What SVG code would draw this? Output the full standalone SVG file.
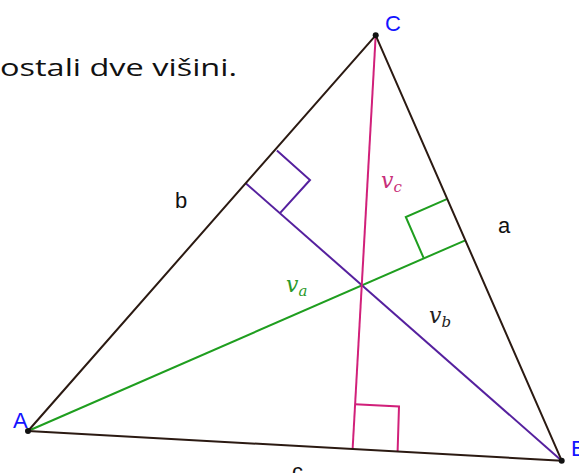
<svg xmlns="http://www.w3.org/2000/svg" width="579" height="473" viewBox="0 0 579 473">
<style>
.side{stroke:#2b1a12;stroke-width:2;fill:none;stroke-linecap:round}
.va{stroke:#1f9e1f;stroke-width:2;fill:none}
.vb{stroke:#55209e;stroke-width:2;fill:none}
.vc{stroke:#d1207a;stroke-width:2;fill:none}
.pt{fill:#111}
.vl{font-family:"Liberation Sans",Arial,sans-serif;font-size:22px;fill:#1414ff}
.sl{font-family:"Liberation Sans",Arial,sans-serif;font-size:22px;fill:#111}
.mv{font-family:"DejaVu Serif","Liberation Serif",serif;font-style:italic;font-size:22px}
.sub{font-size:15px}
</style>
<rect width="579" height="473" fill="#fff"/>
<text x="0" y="76" font-family="'Open Sans','Noto Sans',sans-serif" font-size="23" fill="#111" textLength="237" lengthAdjust="spacingAndGlyphs">ostali dve višini.</text>
<g id="connectors">
<line id="altA" class="va" x1="28" y1="431" x2="465.3" y2="240.3"/>
<line id="altB" class="vb" x1="561.7" y1="460.7" x2="245.7" y2="183.2"/>
<line id="altC" class="vc" x1="375.7" y1="35.3" x2="352.6" y2="449.2"/>
<polyline class="va" points="446.8,199.2 405.8,217 423.6,257.9"/>
<polyline class="vb" points="276.9,150.5 310,180 280.2,212.9"/>
<polyline class="vc" points="355,404.3 399,406.4 397.6,451.7"/>
</g>
<g id="sides">
<line id="sideAB" class="side" x1="28" y1="431" x2="561.7" y2="460.7"/>
<line id="sideBC" class="side" x1="561.7" y1="460.7" x2="375.7" y2="35.3"/>
<line id="sideCA" class="side" x1="375.7" y1="35.3" x2="28" y2="431"/>
</g>
<g id="nodeA"><circle class="pt" cx="28" cy="431" r="3"/><text class="vl" x="13" y="428">A</text></g>
<g id="nodeB"><circle class="pt" cx="561.7" cy="460.7" r="3"/><text class="vl" x="571" y="456">B</text></g>
<g id="nodeC"><circle class="pt" cx="375.7" cy="35.3" r="3"/><text class="vl" x="385" y="30.5">C</text></g>
<g id="labels">
<text class="sl" x="175" y="208">b</text>
<text class="sl" x="498" y="233">a</text>
<text class="sl" x="292" y="479">c</text>
<text class="mv" x="381" y="188" fill="#c8307a">v<tspan class="sub" dy="4">c</tspan></text>
<text class="mv" x="286" y="292" fill="#2a9a2a">v<tspan class="sub" dy="4">a</tspan></text>
<text class="mv" x="429" y="323" fill="#222">v<tspan class="sub" dy="4">b</tspan></text>
</g>
</svg>
